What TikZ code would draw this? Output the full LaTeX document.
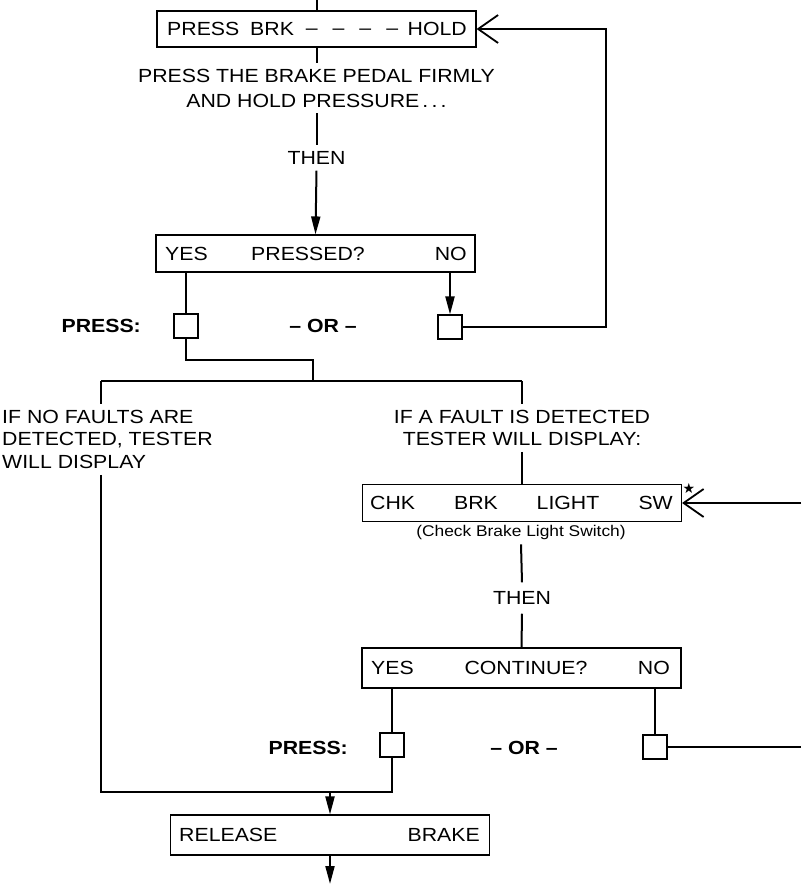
\documentclass[tikz,border=0pt]{standalone}
\usepackage{fontspec}
\setmainfont{Liberation Sans}[FakeStretch=1.12]
\newfontfamily\symfont{DejaVu Sans}
\usetikzlibrary{arrows.meta}
\tikzset{
  box/.style={draw, line width=1.1pt, inner sep=0pt, minimum width=319pt},
  sq/.style={draw, line width=1.1pt, inner sep=0pt, minimum width=24pt, minimum height=24pt},
  txt/.style={inner sep=6pt, font=\fontsize{19}{25}\selectfont},
  btxt/.style={inner sep=0pt, font=\fontsize{19}{25}\selectfont},
  bold/.style={inner sep=0pt, font=\fontsize{19}{25}\selectfont\bfseries},
  line/.style={line width=2pt},
  arr/.style={line width=2pt, -{Triangle[length=18pt,width=9pt]}},
  barb/.style={line width=2pt, -{Straight Barb[length=20pt,width=28pt,line width=1.8pt]}},
}
\begin{document}
\begin{tikzpicture}[x=1pt,y=-1pt]
\useasboundingbox[fill=white] (0,0) rectangle (801,884);
% ---------- top part
\coordinate (top) at (316.5,0);
\node[box, minimum height=36pt] (b1) at (316.5,29) {};
\node[btxt, anchor=west] (b1a) at (167,29) {PRESS\hspace{5pt} BRK};
\node[btxt] (b1b) at (352,31.5) {–\hspace{15pt}–\hspace{15pt}–\hspace{15pt}–};
\node[btxt, anchor=east] (b1c) at (467,29) {HOLD};
\node[txt, align=center] (msg1) at (316.5,88) {PRESS THE BRAKE PEDAL FIRMLY\\AND HOLD PRESSURE\,.\,.\,.};
\node[txt] (then1) at (316.5,158) {THEN};
\node[box, minimum height=37pt] (b2) at (315.5,253.5) {};
\node[btxt, anchor=west] (b2a) at (165,253.5) {YES};
\node[btxt] (b2b) at (308,253.5) {PRESSED?};
\node[btxt, anchor=east] (b2c) at (467,253.5) {NO};
\node[sq] (s1) at (186,326) {};
\node[sq] (s2) at (450,327) {};
\node[bold, anchor=east] (p1) at (141,326) {PRESS:};
\node[bold] (o1) at (323,326) {– OR –};
\draw[line] (top) -- (b1.north);
\draw[line] (b1.south) -- (msg1.north);
\draw[line] (msg1.south) -- (then1.north);
\draw[arr] (then1.south) -- (b2.north);
\draw[line] (s1.north |- b2.south) -- (s1.north);
\draw[arr] (s2.north |- b2.south) -- (s2.north);
\coordinate (r1) at (606,0);
\draw[barb] (s2.east) -- (s2.east -| r1) |- (b1.east);
% ---------- split
\coordinate (j1) at (313,360);
\coordinate (j2) at (313,381);
\coordinate (hl) at (101,381);
\coordinate (hr) at (522,381);
\draw[line] (s1.south) |- (j1) -- (j2);
\draw[line] (hl) -- (hr);
\node[txt, align=left, anchor=north west, font=\fontsize{19}{22.5}\selectfont] (lt) at (-4,404) {IF NO FAULTS ARE\\DETECTED, TESTER\\WILL DISPLAY};
\node[txt, align=center, anchor=north, font=\fontsize{19}{22}\selectfont] (rt) at (522,404) {IF A FAULT IS DETECTED\\TESTER WILL DISPLAY:};
\draw[line] (hl) -- (hl |- lt.north);
\draw[line] (hr) -- (rt.north);
% ---------- fault branch
\node[box, minimum height=37pt] (b3) at (522,503) {};
\node[btxt, anchor=west] (b3a) at (370,503) {CHK};
\node[btxt] (b3b) at (476,503) {BRK};
\node[btxt] (b3c) at (568,503) {LIGHT};
\node[btxt, anchor=east] (b3d) at (673,503) {SW};
\node[inner sep=0pt, font=\symfont\fontsize{14}{14}\selectfont] (star) at (689,488) {★};
\coordinate (e1) at (801,503);
\draw[line] (rt.south) -- (b3.north);
\draw[barb] (e1) -- (b3.east);
\node[inner sep=5pt, font=\fontsize{15.5}{18}\selectfont] (cb) at (521,532) {(Check Brake Light Switch)};
\node[txt, inner sep=9pt] (then2) at (522,598) {THEN};
\draw[line] (cb.south) -- (then2.north);
\node[box, minimum height=40pt] (b4) at (521.5,668) {};
\node[btxt, anchor=west] (b4a) at (371,668) {YES};
\node[btxt] (b4b) at (526,668) {CONTINUE?};
\node[btxt, anchor=east] (b4c) at (670,668) {NO};
\draw[line] (then2.south) -- (b4.north);
\node[sq] (s3) at (392,745) {};
\node[sq] (s4) at (655,747) {};
\node[bold, anchor=east] (p2) at (348,748) {PRESS:};
\node[bold] (o2) at (524,748) {– OR –};
\draw[line] (s3.north |- b4.south) -- (s3.north);
\draw[line] (s4.north |- b4.south) -- (s4.north);
\coordinate (e2) at (801,747);
\draw[line] (s4.east) -- (e2);
% ---------- release
\coordinate (j3) at (101,792);
\coordinate (j4) at (330,792);
\coordinate (bot) at (330,884);
\draw[line] (hl |- lt.south) -- (j3) -| (s3.south);
\node[box, minimum height=40pt] (b5) at (330,835) {};
\node[btxt, anchor=west] (b5a) at (179,835) {RELEASE};
\node[btxt, anchor=east] (b5b) at (480,835) {BRAKE};
\draw[arr] (j4) -- (b5.north);
\draw[arr] (b5.south) -- (bot);
\end{tikzpicture}
\end{document}
